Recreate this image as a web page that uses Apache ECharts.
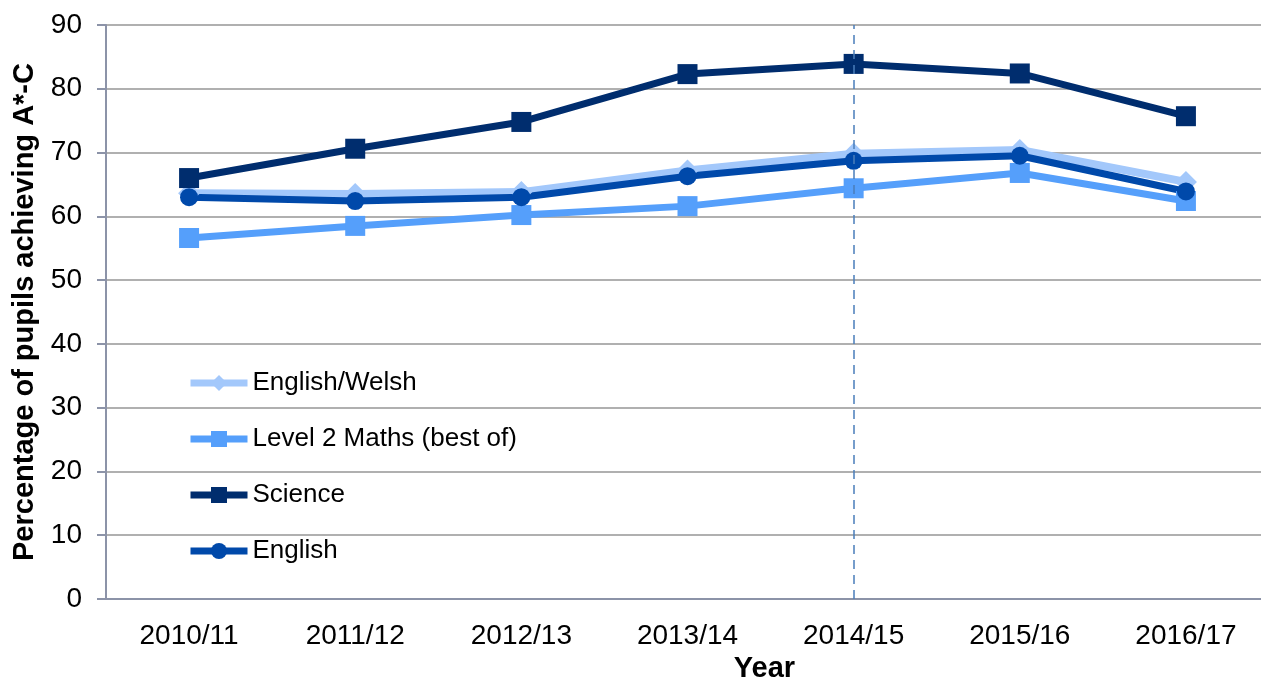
<!DOCTYPE html>
<html>
<head>
<meta charset="utf-8">
<script src="https://cdn.jsdelivr.net/npm/echarts@6/dist/echarts.min.js"></script>
<style>
  html, body { margin: 0; padding: 0; background: #fff; }
  #chart { width: 1261px; height: 680px; }
</style>
</head>
<body>
<div id="chart"></div>
<script>
const years = ["2010/11", "2011/12", "2012/13", "2013/14", "2014/15", "2015/16", "2016/17"];
const englishWelsh = [63.6, 63.5, 63.8, 67.2, 69.8, 70.4, 65.4];
const maths = [56.6, 58.5, 60.2, 61.6, 64.4, 66.8, 62.4];
const science = [66.0, 70.6, 74.8, 82.3, 83.9, 82.4, 75.7];
const english = [63.0, 62.4, 63.0, 66.3, 68.7, 69.5, 63.9];
const markYear = "2014/15";

const font = "Liberation Sans, Arial, sans-serif";
const chart = echarts.init(document.getElementById("chart"));

function line(name, data, color, symbol, size, width) {
  return {
    name: name,
    type: "line",
    data: data,
    symbol: symbol,
    symbolSize: size,
    showSymbol: true,
    lineStyle: { color: color, width: width },
    itemStyle: { color: color },
    z: 3
  };
}

const series = [
  line("English/Welsh", englishWelsh, "#a3c8fb", "diamond", 22, 8),
  line("Level 2 Maths (best of)", maths, "#559ffb", "rect", 20, 7),
  line("Science", science, "#002d6e", "rect", 20, 7),
  line("English", english, "#0049aa", "circle", 18, 7)
];
series[2].markLine = {
  silent: true,
  symbol: "none",
  label: { show: false },
  lineStyle: { color: "#4a7ebb", type: [9, 6], width: 1.5 },
  data: [{ xAxis: markYear }]
};

chart.setOption({
  animation: false,
  grid: { left: 106, top: 25, bottom: 81, right: -8, outerBoundsMode: "none", containLabel: false },
  legend: {
    orient: "vertical",
    left: 182,
    top: 365,
    itemWidth: 57,
    itemHeight: 20,
    itemGap: 30,
    lineStyle: { width: 7 },
    textStyle: { fontFamily: font, fontSize: 26, color: "#000" },
    data: ["English/Welsh", "Level 2 Maths (best of)", "Science", "English"]
  },
  xAxis: {
    type: "category",
    data: years,
    boundaryGap: true,
    name: "Year",
    nameLocation: "middle",
    nameGap: 54,
    nameTextStyle: { fontFamily: font, fontSize: 29, fontWeight: "bold", color: "#000", padding: [0, 0, 0, 154] },
    axisLine: { lineStyle: { color: "#8c93a8", width: 2 } },
    axisTick: { alignWithLabel: true, length: 8, lineStyle: { color: "#8c93a8", width: 2 } },
    axisLabel: { fontFamily: font, fontSize: 28, color: "#000", margin: 23 }
  },
  yAxis: {
    type: "value",
    min: 0,
    max: 90,
    interval: 10,
    name: "Percentage of pupils achieving A*-C",
    nameLocation: "middle",
    nameGap: 64,
    nameTextStyle: { fontFamily: font, fontSize: 29, fontWeight: "bold", color: "#000" },
    axisLine: { show: true, lineStyle: { color: "#8c93a8", width: 2 } },
    axisTick: { show: true, length: 9, lineStyle: { color: "#8c93a8", width: 2 } },
    axisLabel: { fontFamily: font, fontSize: 28, color: "#000", margin: 24 },
    splitLine: { lineStyle: { color: "#b0b0b0", width: 2 } }
  },
  series: series
});
</script>
</body>
</html>
